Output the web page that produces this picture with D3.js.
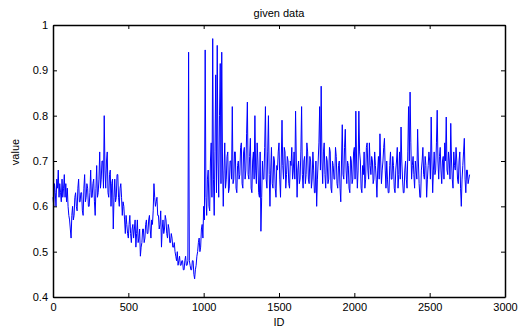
<!DOCTYPE html>
<html>
<head>
<meta charset="utf-8">
<script src="https://cdn.jsdelivr.net/npm/d3@7"></script>
<style>
  body { margin: 0; background: #fff; }
  text { font-family: "Liberation Sans", Arial, Helvetica, sans-serif; }
</style>
</head>
<body>
<div id="chart"></div>
<script>
const idStep = 5;
const values = [
  0.62,0.60,0.65,0.63,0.60,0.66,0.64,0.68,0.62,0.65,0.63,0.61,0.66,0.62,0.64,0.67,0.62,0.65,0.61,0.64,
  0.60,0.58,0.57,0.55,0.53,0.58,0.60,0.57,0.58,0.62,0.63,0.60,0.59,0.64,0.66,0.61,0.61,0.63,0.63,0.59,
  0.58,0.64,0.67,0.61,0.62,0.65,0.64,0.60,0.60,0.63,0.68,0.62,0.62,0.65,0.66,0.61,0.58,0.64,0.69,0.62,
  0.63,0.66,0.72,0.64,0.66,0.70,0.70,0.64,0.80,0.68,0.64,0.70,0.72,0.63,0.62,0.67,0.68,0.60,0.65,0.66,
  0.55,0.62,0.66,0.61,0.62,0.67,0.67,0.62,0.60,0.64,0.65,0.62,0.58,0.61,0.60,0.57,0.54,0.58,0.56,0.54,
  0.53,0.56,0.58,0.54,0.52,0.55,0.56,0.53,0.55,0.57,0.51,0.54,0.57,0.52,0.53,0.55,0.49,0.51,0.52,0.55,
  0.55,0.52,0.53,0.56,0.57,0.54,0.54,0.57,0.58,0.55,0.53,0.57,0.56,0.59,0.65,0.62,0.60,0.61,0.62,0.58,
  0.58,0.55,0.56,0.59,0.51,0.55,0.57,0.54,0.55,0.58,0.57,0.54,0.53,0.56,0.55,0.52,0.52,0.54,0.53,0.51,
  0.51,0.52,0.50,0.49,0.48,0.50,0.47,0.48,0.49,0.47,0.47,0.48,0.48,0.46,0.46,0.48,0.49,0.47,0.47,0.48,
  0.94,0.48,0.47,0.46,0.46,0.48,0.48,0.45,0.44,0.46,0.47,0.49,0.50,0.52,0.53,0.50,0.51,0.55,0.56,0.53,
  0.60,0.57,0.945,0.62,0.58,0.66,0.68,0.60,0.59,0.70,0.74,0.62,0.97,0.66,0.58,0.72,0.89,0.63,0.955,0.70,
  0.62,0.80,0.915,0.65,0.94,0.70,0.60,0.68,0.74,0.64,0.66,0.71,0.72,0.63,0.64,0.70,0.70,0.66,0.82,0.65,
  0.66,0.72,0.72,0.64,0.63,0.69,0.70,0.66,0.67,0.73,0.74,0.65,0.64,0.72,0.73,0.66,0.68,0.76,0.83,0.67,
  0.66,0.71,0.75,0.64,0.63,0.70,0.72,0.66,0.80,0.68,0.65,0.74,0.70,0.63,0.62,0.72,0.545,0.62,0.70,0.66,
  0.66,0.73,0.82,0.66,0.64,0.72,0.80,0.67,0.60,0.68,0.73,0.65,0.64,0.71,0.70,0.64,0.62,0.69,0.68,0.72,
  0.74,0.66,0.62,0.70,0.79,0.69,0.66,0.73,0.72,0.64,0.67,0.71,0.70,0.65,0.64,0.70,0.69,0.73,0.66,0.68,
  0.72,0.66,0.81,0.70,0.62,0.68,0.70,0.65,0.66,0.72,0.82,0.67,0.64,0.70,0.71,0.65,0.67,0.74,0.72,0.66,
  0.65,0.71,0.70,0.64,0.66,0.72,0.68,0.63,0.63,0.70,0.60,0.66,0.70,0.74,0.82,0.68,0.865,0.70,0.65,0.72,
  0.74,0.67,0.64,0.71,0.70,0.65,0.66,0.73,0.72,0.64,0.63,0.70,0.69,0.66,0.66,0.73,0.71,0.65,0.64,0.69,
  0.70,0.64,0.61,0.70,0.78,0.67,0.66,0.73,0.77,0.68,0.65,0.70,0.69,0.64,0.63,0.71,0.70,0.65,0.66,0.72,
  0.73,0.66,0.81,0.70,0.64,0.68,0.81,0.72,0.70,0.64,0.63,0.69,0.67,0.72,0.64,0.66,0.73,0.74,0.68,0.66,
  0.74,0.69,0.67,0.71,0.70,0.65,0.66,0.72,0.69,0.66,0.62,0.68,0.71,0.66,0.76,0.70,0.65,0.68,0.70,0.73,
  0.75,0.68,0.64,0.70,0.66,0.63,0.63,0.69,0.72,0.66,0.66,0.71,0.69,0.64,0.63,0.68,0.70,0.73,0.64,0.67,
  0.72,0.66,0.775,0.70,0.66,0.63,0.63,0.68,0.70,0.66,0.64,0.72,0.82,0.70,0.852,0.74,0.66,0.69,0.71,0.67,
  0.64,0.70,0.68,0.66,0.77,0.70,0.65,0.62,0.62,0.68,0.70,0.73,0.67,0.66,0.71,0.69,0.62,0.66,0.69,0.72,
  0.70,0.66,0.797,0.70,0.63,0.68,0.72,0.67,0.68,0.74,0.812,0.70,0.66,0.71,0.73,0.68,0.65,0.70,0.71,0.66,
  0.74,0.70,0.797,0.68,0.67,0.72,0.70,0.66,0.783,0.70,0.66,0.64,0.72,0.69,0.68,0.73,0.70,0.66,0.65,0.70,
  0.72,0.64,0.60,0.66,0.69,0.72,0.75,0.66,0.63,0.68,0.68,0.65,0.66,0.67
];
const xTicks = [0, 500, 1000, 1500, 2000, 2500, 3000];
const yTicks = [0.4, 0.5, 0.6, 0.7, 0.8, 0.9, 1];

const data = values.map((v, i) => ({ id: i * idStep, value: v }));

const W = 520, H = 329;
const margin = { top: 25, right: 15, bottom: 32, left: 53 };
const width = W - margin.left - margin.right;
const height = H - margin.top - margin.bottom;

const x = d3.scaleLinear().domain([0, 3000]).range([0, width]);
const y = d3.scaleLinear().domain([0.4, 1]).range([height, 0]);

const svg = d3.select("#chart").append("svg")
    .attr("width", W)
    .attr("height", H);

const g = svg.append("g")
    .attr("transform", `translate(${margin.left},${margin.top})`);

// Line
g.append("path")
    .datum(data)
    .attr("fill", "none")
    .attr("stroke", "#0000ff")
    .attr("stroke-width", 1)
    .attr("d", d3.line().x(d => x(d.id)).y(d => y(d.value)));

// Axes - MATLAB style box with inward ticks
const fmtY = d => d === 1 ? "1" : d3.format(".1f")(d);

const xAxis = g.append("g")
    .attr("transform", `translate(0,${height})`)
    .call(d3.axisBottom(x).tickValues(xTicks).tickSizeInner(-4).tickSizeOuter(0).tickPadding(6).tickFormat(d3.format("d")));
const xTop = g.append("g")
    .call(d3.axisTop(x).tickValues(xTicks).tickSizeInner(-4).tickSizeOuter(0).tickFormat(""));
const yAxis = g.append("g")
    .call(d3.axisLeft(y).tickValues(yTicks).tickSizeInner(-4).tickSizeOuter(0).tickPadding(5).tickFormat(fmtY));
const yRight = g.append("g")
    .attr("transform", `translate(${width},0)`)
    .call(d3.axisRight(y).tickValues(yTicks).tickSizeInner(-4).tickSizeOuter(0).tickFormat(""));

[xAxis, xTop, yAxis, yRight].forEach(a => {
  a.select(".domain").attr("stroke", "#000").attr("stroke-width", 1.5);
  a.selectAll(".tick line").attr("stroke", "#000");
  a.selectAll("text").attr("font-size", 11).attr("fill", "#000")
    .attr("font-family", "'Liberation Sans', Arial, sans-serif");
});

// Title and labels
svg.append("text")
    .attr("x", margin.left + width / 2)
    .attr("y", 17)
    .attr("text-anchor", "middle")
    .attr("font-size", 11)
    .text("given data");

svg.append("text")
    .attr("x", margin.left + width / 2)
    .attr("y", 326)
    .attr("text-anchor", "middle")
    .attr("font-size", 11)
    .text("ID");

svg.append("text")
    .attr("transform", `translate(19,152) rotate(-90)`)
    .attr("text-anchor", "middle")
    .attr("font-size", 11)
    .text("value");
</script>
</body>
</html>
